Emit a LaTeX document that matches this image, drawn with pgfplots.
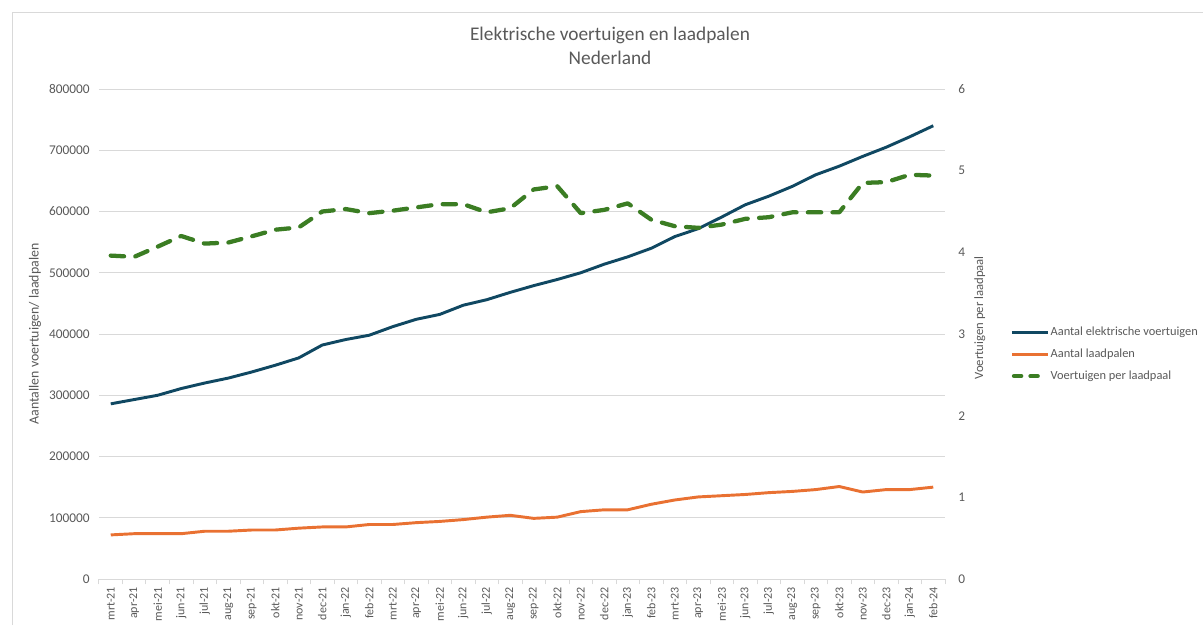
\documentclass[border=0pt]{standalone}
\usepackage{pgfplots}
\pgfplotsset{compat=1.18}
\usepackage{pgfplotstable}
\usepackage{fontspec}
\setmainfont{Carlito}

\definecolor{evblue}{HTML}{104862}
\definecolor{lporange}{HTML}{E97132}
\definecolor{ratiogreen}{HTML}{3B7D23}
\definecolor{gridgray}{HTML}{D9D9D9}
\definecolor{textgray}{HTML}{595959}

% maand, aantal EV's, aantal laadpalen, voertuigen per laadpaal
\pgfplotstableread{
i lbl ev laad ratio
0 mrt-21 286000 72000 3.96
1 apr-21 293000 74000 3.945
2 mei-21 300000 74000 4.07
3 jun-21 311000 74000 4.20
4 jul-21 320000 78000 4.107
5 aug-21 328000 78000 4.12
6 sep-21 338000 80000 4.196
7 okt-21 349000 80000 4.277
8 nov-21 361000 83000 4.305
9 dec-21 382000 85000 4.50
10 jan-22 391000 85000 4.53
11 feb-22 398000 89000 4.48
12 mrt-22 412000 89000 4.51
13 apr-22 424000 92000 4.55
14 mei-22 432000 94000 4.59
15 jun-22 447000 97000 4.59
16 jul-22 456000 101000 4.49
17 aug-22 468000 104000 4.54
18 sep-22 479000 99000 4.77
19 okt-22 489000 101000 4.81
20 nov-22 500000 110000 4.48
21 dec-22 514000 113000 4.52
22 jan-23 526000 113000 4.60
23 feb-23 540000 122000 4.40
24 mrt-23 559000 129000 4.32
25 apr-23 572000 134000 4.30
26 mei-23 591000 136000 4.34
27 jun-23 611000 138000 4.41
28 jul-23 625000 141000 4.43
29 aug-23 641000 143000 4.49
30 sep-23 660000 146000 4.49
31 okt-23 674000 151000 4.49
32 nov-23 690000 142000 4.85
33 dec-23 705000 146000 4.86
34 jan-24 722000 146000 4.95
35 feb-24 740000 150000 4.94
}\evdata

\pgfplotsset{
  common/.style={
    scale only axis,
    width=634.5pt, height=367.5pt,
    at={(74.25pt,-434.25pt)}, anchor=south west,
    xmin=-0.5, xmax=35.5,
    ymin=0,
    tick label style={font=\fontsize{10}{12}\selectfont, text=textgray},
    label style={text=textgray},
    /pgf/number format/assume math mode=true,
    /pgf/number format/.cd, fixed, 1000 sep={},
  },
  legend image code/.code={\draw[#1] (0pt,0pt) -- (27pt,0pt);},
}

\begin{document}
\begin{tikzpicture}
\path[use as bounding box] (0,0) rectangle (902.25pt,-468.75pt);
\draw[gridgray, line width=0.75pt] (9pt,-468.75pt) -- (9pt,-9pt) -- (902.25pt,-9pt);

\node[font=\fontsize{14.5}{17}\selectfont, text=textgray, align=center] at (457.5pt,-34.5pt)
  {Elektrische voertuigen en laadpalen\\[1pt]Nederland};

\begin{axis}[
  common,
  ymax=800000,
  ytick={0,100000,...,800000},
  scaled y ticks=false,
  axis x line*=bottom,
  axis y line*=left,
  x axis line style={gridgray, line width=0.75pt},
  y axis line style={draw=none},
  ymajorgrids=true,
  grid style={gridgray, line width=0.75pt},
  xtick=data,
  xticklabels from table={\evdata}{lbl},
  xticklabel style={rotate=90, anchor=east, font=\fontsize{9}{11}\selectfont, xshift=-2.5pt},
  minor xtick={-0.5,0.5,...,35.5},
  major tick length=0pt,
  minor tick length=4pt,
  tick align=outside,
  minor tick style={gridgray, line width=0.75pt},
  yticklabel style={xshift=-3.5pt},
  ylabel={Aantallen voertuigen/ laadpalen},
  ylabel style={at={(axis description cs:-0.0757,0.5)}, anchor=center,
    font=\fontsize{10.4}{12}\selectfont},
]
\addplot[evblue, line width=2.2pt, line join=round] table[x=i, y=ev] {\evdata};
\addplot[lporange, line width=2.2pt, line join=round] table[x=i, y=laad] {\evdata};
\end{axis}

\begin{axis}[
  common,
  ymax=6,
  ytick={0,1,...,6},
  axis x line=none,
  axis y line*=right,
  y axis line style={draw=none},
  major tick length=0pt,
  yticklabel style={xshift=6.4pt},
  ylabel={Voertuigen per laadpaal},
  ylabel style={at={(axis description cs:1.041,0.533)}, anchor=center, rotate=0,
    font=\fontsize{9.5}{11}\selectfont},
  legend style={at={(axis description cs:1.077,0.459)}, anchor=west,
    draw=none, fill=none, font=\fontsize{9.3}{11}\selectfont, text=textgray,
    row sep=6.5pt, inner sep=0pt,
    nodes={inner sep=1pt}},
  legend cell align=left,
]
\addlegendimage{evblue, line width=2.2pt}
\addlegendentry{Aantal elektrische voertuigen}
\addlegendimage{lporange, line width=2.2pt}
\addlegendentry{Aantal laadpalen}
\addlegendimage{legend image code/.code={\draw[ratiogreen, line width=3pt, line cap=round, dash pattern=on 5.6pt off 6.75pt] (1.5pt,0pt) -- (20pt,0pt); \path (27pt,0pt);}}
\addlegendentry{Voertuigen per laadpaal}
\addplot[ratiogreen, line width=3.2pt, line cap=round, line join=round,
  dash pattern=on 10pt off 8.5pt, forget plot] table[x=i, y=ratio] {\evdata};
\end{axis}
\end{tikzpicture}
\end{document}
